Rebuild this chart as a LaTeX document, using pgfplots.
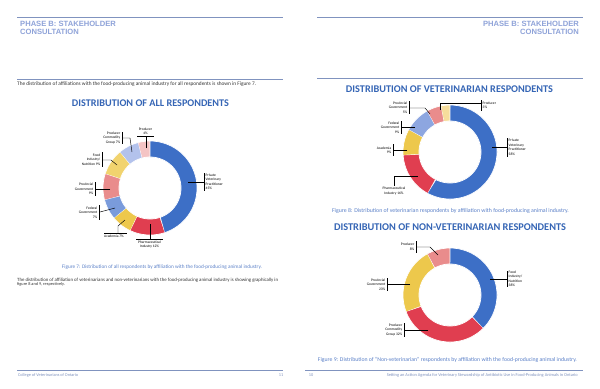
\documentclass[border=0pt]{standalone}
\usepackage{graphicx}
\usepackage{pgfplots}
\pgfplotsset{compat=1.18}
\usepackage{fontspec}
\setmainfont{Carlito}
\newfontfamily\arialf{Liberation Sans}
\definecolor{cBlue}{HTML}{3D6FC6}
\definecolor{cRed}{HTML}{E03E50}
\definecolor{cYel}{HTML}{EDC84C}
\definecolor{cYel2}{HTML}{F1D36E}
\definecolor{cMedBlue}{HTML}{7A9BDB}
\definecolor{cSalmon}{HTML}{E98C8C}
\definecolor{cLav}{HTML}{B3C2EC}
\definecolor{cPink}{HTML}{F4C4C4}
\definecolor{cLtBlue}{HTML}{8DA6E0}
\definecolor{cPaleYel}{HTML}{F6DD9C}
\definecolor{hdr}{HTML}{8FA3D9}
\definecolor{rule}{HTML}{8093BF}
\definecolor{ttl}{HTML}{3565B5}
\definecolor{cap}{HTML}{5B80C8}
\definecolor{txt}{HTML}{333333}
\definecolor{lblc}{HTML}{404040}
\newcommand\lbl{\fontsize{3.6bp}{4.5bp}\selectfont\color{lblc}}
% ring slice: start %, end %, colour, total
\newcommand{\slice}[4]{%
 \addplot[fill=#3, draw=white, line width=0.7bp, domain=0:2, samples=241, variable=\t]
 ({(ifthenelse(\t<=1,47,31))*sin(360/#4*(ifthenelse(\t<=1,#1+(#2-#1)*\t,#2-(#2-#1)*(\t-1))))},
  {(ifthenelse(\t<=1,47,31))*cos(360/#4*(ifthenelse(\t<=1,#1+(#2-#1)*\t,#2-(#2-#1)*(\t-1))))});}
\pgfplotsset{donut/.style={hide axis, anchor=center, x=1bp, y=1bp, xmin=-50, xmax=50, ymin=-50, ymax=50, clip=false}}
\begin{document}
\begin{tikzpicture}[x=1bp,y=-1bp]
\path[use as bounding box, fill=white] (0,0) rectangle (600,388);
% ---------- page rules ----------
\draw[rule, line width=0.6bp] (17,17) -- (283,17) (17,79) -- (283,79) (17,370) -- (283,370);
\draw[rule, line width=0.6bp] (317,17) -- (583,17) (317,78) -- (583,78) (305,370) -- (583,370);
% ---------- headers ----------
\node[anchor=base west, inner sep=0, text=hdr, font=\arialf\bfseries\fontsize{7.6bp}{8.8bp}\selectfont] at (20,26) {PHASE B: STAKEHOLDER};
\node[anchor=base west, inner sep=0, text=hdr, font=\arialf\bfseries\fontsize{7.6bp}{8.8bp}\selectfont] at (20,34.7) {CONSULTATION};
\node[anchor=base east, inner sep=0, text=hdr, font=\arialf\bfseries\fontsize{7.6bp}{8.8bp}\selectfont] at (579,26) {PHASE B: STAKEHOLDER};
\node[anchor=base east, inner sep=0, text=hdr, font=\arialf\bfseries\fontsize{7.6bp}{8.8bp}\selectfont] at (579,34.7) {CONSULTATION};
% ---------- left page text ----------
\node[anchor=west, inner sep=0, text=txt] at (17,84) {\resizebox{239bp}{!}{\fontsize{5bp}{6bp}\selectfont The distribution of affiliations with the food-producing animal industry for all respondents is shown in Figure 7.}};
\node[inner sep=0, text=ttl] at (150.5,103) {\resizebox{157bp}{!}{\bfseries\fontsize{9bp}{10bp}\selectfont DISTRIBUTION OF ALL RESPONDENTS}};
\node[inner sep=0, text=cap] at (162,267) {\resizebox{200bp}{!}{\fontsize{5bp}{6bp}\selectfont Figure 7: Distribution of all respondents by affiliation with the food-producing animal industry.}};
\node[anchor=west, inner sep=0, text=txt] at (17,280) {\resizebox{261bp}{!}{\fontsize{5bp}{6bp}\selectfont The distribution of affiliation of veterinarians and non-veterinarians with the food-producing animal industry is showing graphically in}};
\node[anchor=west, inner sep=0, text=txt, font=\fontsize{4.3bp}{5bp}\selectfont] at (17,284.6) {figure 8 and 9, respectively.};
\node[anchor=west, inner sep=0, text=rule] at (18,375.5) {\resizebox{60bp}{!}{\fontsize{5bp}{6bp}\selectfont College of Veterinarians of Ontario}};
\node[inner sep=0, text=rule, font=\fontsize{4.3bp}{5bp}\selectfont] at (281,375.5) {11};
% ---------- right page text ----------
\node[inner sep=0, text=ttl] at (449.5,89.3) {\resizebox{207bp}{!}{\bfseries\fontsize{9bp}{10bp}\selectfont DISTRIBUTION OF VETERINARIAN RESPONDENTS}};
\node[inner sep=0, text=cap] at (450.5,210.5) {\resizebox{237bp}{!}{\fontsize{5bp}{6bp}\selectfont Figure 8: Distribution of veterinarian respondents by affiliation with food-producing animal industry.}};
\node[inner sep=0, text=ttl] at (450,226.7) {\resizebox{232bp}{!}{\bfseries\fontsize{9bp}{10bp}\selectfont DISTRIBUTION OF NON-VETERINARIAN RESPONDENTS}};
\node[inner sep=0, text=cap] at (447.5,359.7) {\resizebox{259bp}{!}{\fontsize{5bp}{6bp}\selectfont Figure 9: Distribution of “Non-veterinarian” respondents by affiliation with the food-producing animal industry.}};
\node[inner sep=0, text=rule, font=\fontsize{4.3bp}{5bp}\selectfont] at (311,375.5) {10};
\node[anchor=east, inner sep=0, text=rule] at (578,375.5) {\resizebox{191bp}{!}{\fontsize{5bp}{6bp}\selectfont Setting an Action Agenda for Veterinary Stewardship of Antibiotic Use in Food-Producing Animals in Ontario}};
% ---------- donut 1: all respondents ----------
\begin{axis}[donut, at={(150bp,-188bp)}]
\slice{0}{45}{cBlue}{100}
\slice{45}{57}{cRed}{100}
\slice{57}{64}{cYel}{100}
\slice{64}{71}{cMedBlue}{100}
\slice{71}{80}{cSalmon}{100}
\slice{80}{89}{cYel2}{100}
\slice{89}{96}{cLav}{100}
\slice{96}{100}{cPink}{100}
\end{axis}
% ---------- donut 2: veterinarians ----------
\begin{axis}[donut, at={(450bp,-152bp)}]
\slice{0}{58}{cBlue}{100}
\slice{58}{74}{cRed}{100}
\slice{74}{83}{cYel}{100}
\slice{83}{92}{cLtBlue}{100}
\slice{92}{97}{cSalmon}{100}
\slice{97}{100}{cPaleYel}{100}
\end{axis}
% ---------- donut 3: non-veterinarians ----------
\begin{axis}[donut, at={(450bp,-295bp)}]
\slice{0}{38}{cBlue}{101}
\slice{38}{70}{cRed}{101}
\slice{70}{93}{cYel}{101}
\slice{93}{101}{cSalmon}{101}
\end{axis}
% ---------- callouts donut 1 ----------
\begin{scope}[line width=0.45bp, black]
\draw (188,182) -- (204,182); \draw[line width=0.7bp] (204,173) -- (204,191);
\node[anchor=west, align=left, inner sep=0, font=\lbl] at (205.5,182) {Private\\Veterinary\\Practitioner\\45\%};
\draw (150,224) -- (150,239); \draw[line width=0.7bp] (136,239) -- (163,239);
\node[anchor=north, align=center, inner sep=0, font=\lbl] at (149.5,240.5) {Pharmaceutical\\Industry 12\%};
\draw (125,220) -- (118,226) -- (118,233); \draw[line width=0.7bp] (104,233) -- (127,233);
\node[anchor=north, align=center, inner sep=0, font=\lbl] at (114,234.5) {Academia 7\%};
\draw (115,208) -- (100,212); \draw[line width=0.7bp] (99,205) -- (99,220);
\node[anchor=east, align=right, inner sep=0, font=\lbl] at (97.5,212.5) {Federal\\Government\\7\%};
\draw (110,189) -- (95,189); \draw[line width=0.7bp] (95,182) -- (95,196);
\node[anchor=east, align=right, inner sep=0, font=\lbl] at (93.5,189) {Provincial\\Government\\9\%};
\draw (117,165) -- (111,160) -- (102,160); \draw[line width=0.7bp] (102,152) -- (102,167);
\node[anchor=east, align=right, inner sep=0, font=\lbl] at (100.5,159.5) {Food\\Industry/\\Nutrition 9\%};
\draw (132,152) -- (130,138) -- (122,138); \draw[line width=0.7bp] (122,132) -- (122,144);
\node[anchor=east, align=right, inner sep=0, font=\lbl] at (120.5,138) {Producer\\Commodity\\Group 7\%};
\draw (146,148) -- (146,136); \draw[line width=0.7bp] (137,136) -- (154,136);
\node[anchor=south, align=center, inner sep=0, font=\lbl] at (145.5,135) {Producer\\4\%};
% ---------- callouts donut 2 ----------
\draw (440,110) -- (440,103) -- (481,103); \draw[line width=0.7bp] (481,100) -- (481,111);
\node[anchor=west, align=left, inner sep=0, font=\lbl] at (482.5,105.5) {Producer\\3\%};
\draw (430,114) -- (425,108) -- (409,108); \draw[line width=0.7bp] (409,101) -- (409,114);
\node[anchor=east, align=right, inner sep=0, font=\lbl] at (407.5,107.5) {Provincial\\Government\\5\%};
\draw (415,127) -- (401,127); \draw[line width=0.7bp] (401,121) -- (401,134);
\node[anchor=east, align=right, inner sep=0, font=\lbl] at (399.5,127.5) {Federal\\Government\\9\%};
\draw (407,150) -- (393,150); \draw[line width=0.7bp] (393,144) -- (393,156);
\node[anchor=east, align=right, inner sep=0, font=\lbl] at (391.5,150.5) {Academia\\9\%};
\draw (418,176) -- (394,176); \draw[line width=0.7bp] (394,176) -- (394,186);
\node[anchor=north, align=center, inner sep=0, font=\lbl] at (394,187) {Pharmaceutical\\Industry 16\%};
\draw (492,147) -- (507,147); \draw[line width=0.7bp] (507,138) -- (507,157);
\node[anchor=west, align=left, inner sep=0, font=\lbl] at (508.5,147.5) {Private\\Veterinary\\Practitioner\\58\%};
% ---------- callouts donut 3 ----------
\draw (438,255) -- (430,247) -- (416,247); \draw[line width=0.7bp] (416,241) -- (416,253);
\node[anchor=east, align=right, inner sep=0, font=\lbl] at (414.5,247) {Producer\\8\%};
\draw (490,279) -- (507,279); \draw[line width=0.7bp] (507,271) -- (507,287);
\node[anchor=west, align=left, inner sep=0, font=\lbl] at (508.5,279) {Food\\Industry/\\Nutrition\\38\%};
\draw (410,284) -- (387,284); \draw[line width=0.7bp] (387,278) -- (387,291);
\node[anchor=east, align=right, inner sep=0, font=\lbl] at (385.5,284.5) {Provincial\\Government\\23\%};
\draw (428,330) -- (404,330); \draw[line width=0.7bp] (404,323) -- (404,337);
\node[anchor=east, align=right, inner sep=0, font=\lbl] at (402.5,330) {Producer\\Commodity\\Group 32\%};
\end{scope}
\end{tikzpicture}
\end{document}
